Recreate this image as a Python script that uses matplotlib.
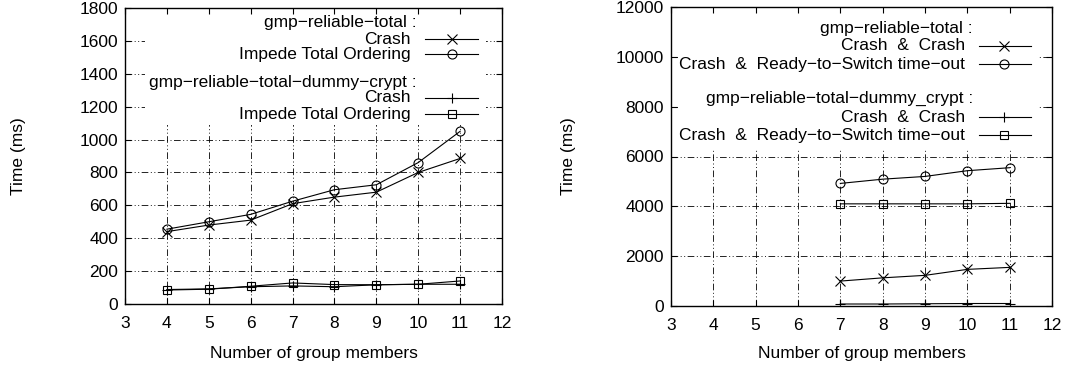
import matplotlib
matplotlib.use("Agg")
import matplotlib.pyplot as plt
from matplotlib.patches import Rectangle
from matplotlib.lines import Line2D

plt.rcParams['font.family'] = ['Liberation Sans', 'DejaVu Sans']

# ---------------- data ----------------
left_x = [4, 5, 6, 7, 8, 9, 10, 11]
left_rt_crash = [440, 480, 510, 610, 650, 680, 800, 885]
left_rt_impede = [455, 500, 545, 625, 695, 725, 860, 1050]
left_dc_crash = [88, 92, 105, 110, 105, 117, 120, 120]
left_dc_impede = [85, 90, 108, 128, 118, 117, 120, 140]

right_x = [7, 8, 9, 10, 11]
right_rt_cc = [1000, 1130, 1230, 1470, 1550]
right_rt_crt = [4920, 5090, 5200, 5430, 5550]
right_dc_cc = [80, 80, 90, 100, 100]
right_dc_crt = [4100, 4100, 4100, 4100, 4120]

x_ticks = [3, 4, 5, 6, 7, 8, 9, 10, 11, 12]
left_y_ticks = [0, 200, 400, 600, 800, 1000, 1200, 1400, 1600, 1800]
right_y_ticks = [0, 2000, 4000, 6000, 8000, 10000, 12000]

left_title1 = "gmp\u2212reliable\u2212total :"
left_title2 = "gmp\u2212reliable\u2212total\u2212dummy\u2212crypt :"
left_lab_a = "Crash"
left_lab_b = "Impede Total Ordering"
right_title1 = "gmp\u2212reliable\u2212total :"
right_title2 = "gmp\u2212reliable\u2212total\u2212dummy_crypt :"
right_lab_a = "Crash  &  Crash"
right_lab_b = "Crash  &  Ready\u2212to\u2212Switch time\u2212out"

FS = 12.5
W, H = 1066, 368
fig = plt.figure(figsize=(W / 100, H / 100), dpi=100)

def px_axes(x0, x1, ytop, ybot):
    return [x0 / W, 1 - ybot / H, (x1 - x0) / W, (ybot - ytop) / H]

grid_style = dict(color='black', lw=0.6, linestyle=(0, (8, 3, 1.2, 3, 1.2, 3)), zorder=0.8)
line_kw = dict(color='black', lw=0.8, zorder=2)

def setup(ax, yticks, ymax):
    ax.set_xlim(3, 12)
    ax.set_ylim(0, ymax)
    ax.set_xticks(x_ticks)
    ax.set_yticks(yticks)
    for t in x_ticks[1:-1]:
        ax.axvline(t, **grid_style)
    for t in yticks[1:-1]:
        ax.axhline(t, **grid_style)
    ax.tick_params(direction='in', length=4.5, width=0.8, top=True, right=True,
                   labelsize=FS, colors='black')
    ax.tick_params(axis='x', pad=8.5)
    ax.tick_params(axis='y', pad=5)
    for s in ax.spines.values():
        s.set_linewidth(1.0)
        s.set_zorder(3)
    ax.set_xlabel("Number of group members", fontsize=FS)
    ax.set_ylabel("Time (ms)", fontsize=FS)

def legend(ax, box, title_x, text_x, s0, s1, mx, rows):
    # box: (x0, y0, x1, y1) in axes fraction
    ax.add_patch(Rectangle((box[0], box[1]), box[2] - box[0], box[3] - box[1],
                           transform=ax.transAxes, facecolor='white',
                           edgecolor='none', zorder=1))
    for kind, y, txt, mk in rows:
        if kind == 'title':
            ax.text(title_x, y, txt, transform=ax.transAxes, ha='right', va='center',
                    fontsize=FS, zorder=4)
        else:
            ax.text(text_x, y, txt, transform=ax.transAxes, ha='right', va='center',
                    fontsize=FS, zorder=4)
            ax.add_line(Line2D([s0, s1], [y, y], transform=ax.transAxes,
                               color='black', lw=0.8, zorder=4))
            ax.add_line(Line2D([mx], [y], transform=ax.transAxes, marker=mk[0],
                               markersize=mk[1], mfc='none', mec='black', mew=0.8,
                               color='black', lw=0, zorder=4))

mk_x = ('x', 7.0)
mk_o = ('o', 6.5)
mk_p = ('+', 7.4)
mk_s = ('s', 6.4)

# ---------------- left ----------------
ax1 = fig.add_axes(px_axes(125, 502, 8, 304))
setup(ax1, left_y_ticks, 1800)
ax1.plot(left_x, left_rt_crash, marker='x', ms=mk_x[1], mew=0.8, mfc='none', **line_kw)
ax1.plot(left_x, left_rt_impede, marker='o', ms=mk_o[1], mew=0.8, mfc='none', **line_kw)
ax1.plot(left_x, left_dc_crash, marker='+', ms=mk_p[1], mew=0.8, mfc='none', **line_kw)
ax1.plot(left_x, left_dc_impede, marker='s', ms=mk_s[1], mew=0.8, mfc='none', **line_kw)

def fy_l(py):
    return (304 - py) / 296
def fx_l(px):
    return (px - 125) / 377

legend(ax1, (fx_l(145), fy_l(125), fx_l(486), 1.0),
       fx_l(417), fx_l(411), fx_l(425), fx_l(478), fx_l(452),
       [('title', fy_l(23), left_title1, None),
        ('entry', fy_l(39), left_lab_a, mk_x),
        ('entry', fy_l(54), left_lab_b, mk_o),
        ('title', fy_l(83), left_title2, None),
        ('entry', fy_l(98), left_lab_a, mk_p),
        ('entry', fy_l(114), left_lab_b, mk_s)])
ax1.yaxis.set_label_coords((26 - 125) / 377, 0.5)
ax1.xaxis.set_label_coords(0.5, (304 - 346) / 296)

# ---------------- right ----------------
ax2 = fig.add_axes(px_axes(671, 1052, 7, 306))
setup(ax2, right_y_ticks, 12000)
ax2.plot(right_x, right_rt_cc, marker='x', ms=mk_x[1], mew=0.8, mfc='none', **line_kw)
ax2.plot(right_x, right_rt_crt, marker='o', ms=mk_o[1], mew=0.8, mfc='none', **line_kw)
ax2.plot(right_x, right_dc_cc, marker='+', ms=mk_p[1], mew=0.8, mfc='none', **line_kw)
ax2.plot(right_x, right_dc_crt, marker='s', ms=mk_s[1], mew=0.8, mfc='none', **line_kw)

def fy_r(py):
    return (306 - py) / 299
def fx_r(px):
    return (px - 671) / 381

legend(ax2, (fx_r(678), fy_r(150), fx_r(1038), 1.0),
       fx_r(973), fx_r(965), fx_r(979), fx_r(1031), fx_r(1004),
       [('title', fy_r(28), right_title1, None),
        ('entry', fy_r(46), right_lab_a, mk_x),
        ('entry', fy_r(64), right_lab_b, mk_o),
        ('title', fy_r(98), right_title2, None),
        ('entry', fy_r(117), right_lab_a, mk_p),
        ('entry', fy_r(135), right_lab_b, mk_s)])
ax2.yaxis.set_label_coords((576 - 671) / 381, 0.5)
ax2.xaxis.set_label_coords(0.5, (306 - 346) / 299)

fig.savefig("out.png", dpi=100)
